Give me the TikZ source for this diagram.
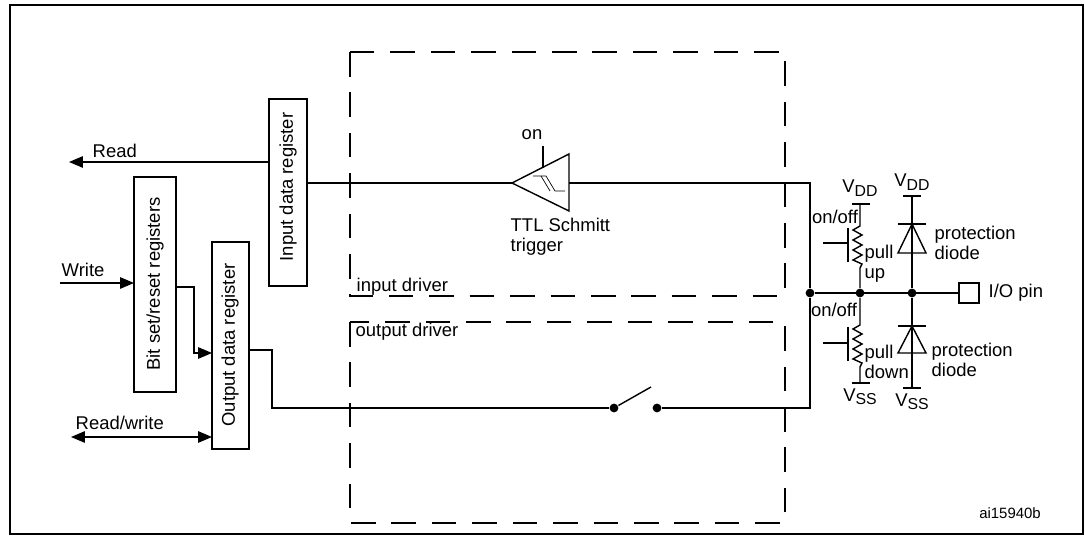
\documentclass[tikz,border=0pt]{standalone}
\usepackage{fontspec}
\setmainfont{Liberation Sans}
\usetikzlibrary{arrows,calc,positioning}
\newcommand{\lsub}[1]{\raisebox{-0.35ex}{\fontsize{9}{9}\selectfont #1}}
\tikzset{reg/.style={draw,thick,inner sep=0pt}}
\tikzset{l/.style={font=\fontsize{10.5}{11.5}\selectfont,inner sep=0pt}}
\tikzset{dot/.style={circle,fill,inner sep=0pt,minimum size=5pt}}
\tikzset{bar/.style={thick}}
\tikzset{drv/.style={dash pattern=on 14pt off 9pt}}
\begin{document}
\begin{tikzpicture}[x=0.02cm,y=-0.02cm,thick,>=triangle 45]
  \useasboundingbox (0,0) rectangle (1085,536);
  \draw[line width=1.3pt] (10,5) rectangle (1083,534);
  % driver blocks
  \draw[drv] (350,52) rectangle (785,296);
  \draw[drv] (350,322) rectangle (785,523);
  \node[l,anchor=west] (indrv) at (356,287) {input driver};
  \node[l,anchor=west] (outdrv) at (355,332) {output driver};
  % registers
  \draw[reg] (269,99) rectangle (307,286);
  \node[l,rotate=90] (inreg) at (288,187) {Input data register};
  \draw[reg] (134,177) rectangle (176,392);
  \node[l,rotate=90] (bsreg) at (155,284) {Bit set/reset registers};
  \draw[reg] (212,242) rectangle (249,449);
  \node[l,rotate=90] (outreg) at (230,345) {Output data register};
  \coordinate (rd0) at (269,162);
  \coordinate (rd1) at (69,162);
  \draw[->] (rd0) -- (rd1);
  \node[l,anchor=south west] at (92,158) {Read};
  \coordinate (wr0) at (60,283);
  \coordinate (wr1) at (134,283);
  \draw[->] (wr0) -- (wr1);
  \node[l,anchor=south west] at (61,277) {Write};
  \coordinate (bs0) at (176,287);
  \coordinate (bs1) at (212,353);
  \draw[->] (bs0) -| (194,353) -- (bs1);
  \coordinate (rw0) at (71,437);
  \coordinate (rw1) at (212,437);
  \draw[<->] (rw0) -- (rw1);
  \node[l,anchor=south west] at (75,430) {Read/write};
  % schmitt trigger
  \coordinate (st) at (512,183);
  \draw (st) -- (569,154) -- (569,211) -- cycle;
  \draw[thin] (533,176) -- (546,176) -- (555,191) -- (565,191);
  \draw[thin] (541,176) -- (550,191);
  \draw (543,146) -- (543,168);
  \node[l] (on) at (532,135) {on};
  \node[l,align=left,anchor=north west] (ttl) at (510,217) {TTL Schmitt\\trigger};
  \draw (307,183) -- (st);
  % right side
  \node[dot] (n1) at (810,293) {};
  \node[dot] (n2) at (860,293) {};
  \node[dot] (n3) at (912,293) {};
  \node[draw,thick,minimum size=20pt*0.567,inner sep=0pt] (pin) at (969,293) {};
  \node[l,anchor=west] at (988,293) {I/O pin};
  \draw (569,183) -| (n1);
  \draw (n1) -- (pin);
  % output path and switch
  \node[dot] (sw0) at (614,408) {};
  \node[dot] (sw1) at (657,408) {};
  \draw (249,350) -| (272,408) -- (sw0);
  \draw (sw0) -- (651,387);
  \draw (sw1) -- (810,408) -- (n1);
  % pull up
  \draw[bar] (852,204) -- (870,204);
  \node[l] at (860,188) {V\lsub{DD}};
  \draw (860,204) -- (860,226) -- (853,230) -- (862,235) -- (853,240) -- (862,245) -- (853,250) -- (862,255) -- (853,260) -- (862,264) -- (860,268) -- (n2);
  \draw (848,228) -- (848,262);
  \draw (823,243) -- (848,243);
  \node[l] at (835,217) {on/off};
  \node[l,align=left,anchor=west] at (864,264) {pull\\up};
  % pull down
  \draw (n2) -- (860,325) -- (853,329) -- (862,334) -- (853,339) -- (862,344) -- (853,349) -- (862,354) -- (853,359) -- (862,363) -- (860,367) -- (860,383);
  \draw[bar] (852,383) -- (870,383);
  \node[l] at (860,397) {V\lsub{SS}};
  \draw (848,327) -- (848,361);
  \draw (823,343) -- (848,343);
  \node[l] at (834,310) {on/off};
  \node[l,align=left,anchor=west] at (864,362) {pull\\down};
  % diodes
  \draw[bar] (903,196) -- (921,196);
  \node[l] at (912,182) {V\lsub{DD}};
  \draw (912,196) -- (n3);
  \draw[bar] (898,224) -- (926,224);
  \draw (912,224) -- (898,253) -- (926,253) -- cycle;
  \node[l,align=left,anchor=west] at (934,243) {protection\\diode};
  \draw (n3) -- (912,388);
  \draw[bar] (898,326) -- (926,326);
  \draw (912,326) -- (898,353) -- (926,353) -- cycle;
  \node[l,align=left,anchor=west] at (931,360) {protection\\diode};
  \draw[bar] (903,388) -- (921,388);
  \node[l] at (912,402) {V\lsub{SS}};
  \node[l,font=\fontsize{8.5}{9}\selectfont] at (1010,513) {ai15940b};
\end{tikzpicture}
\end{document}
